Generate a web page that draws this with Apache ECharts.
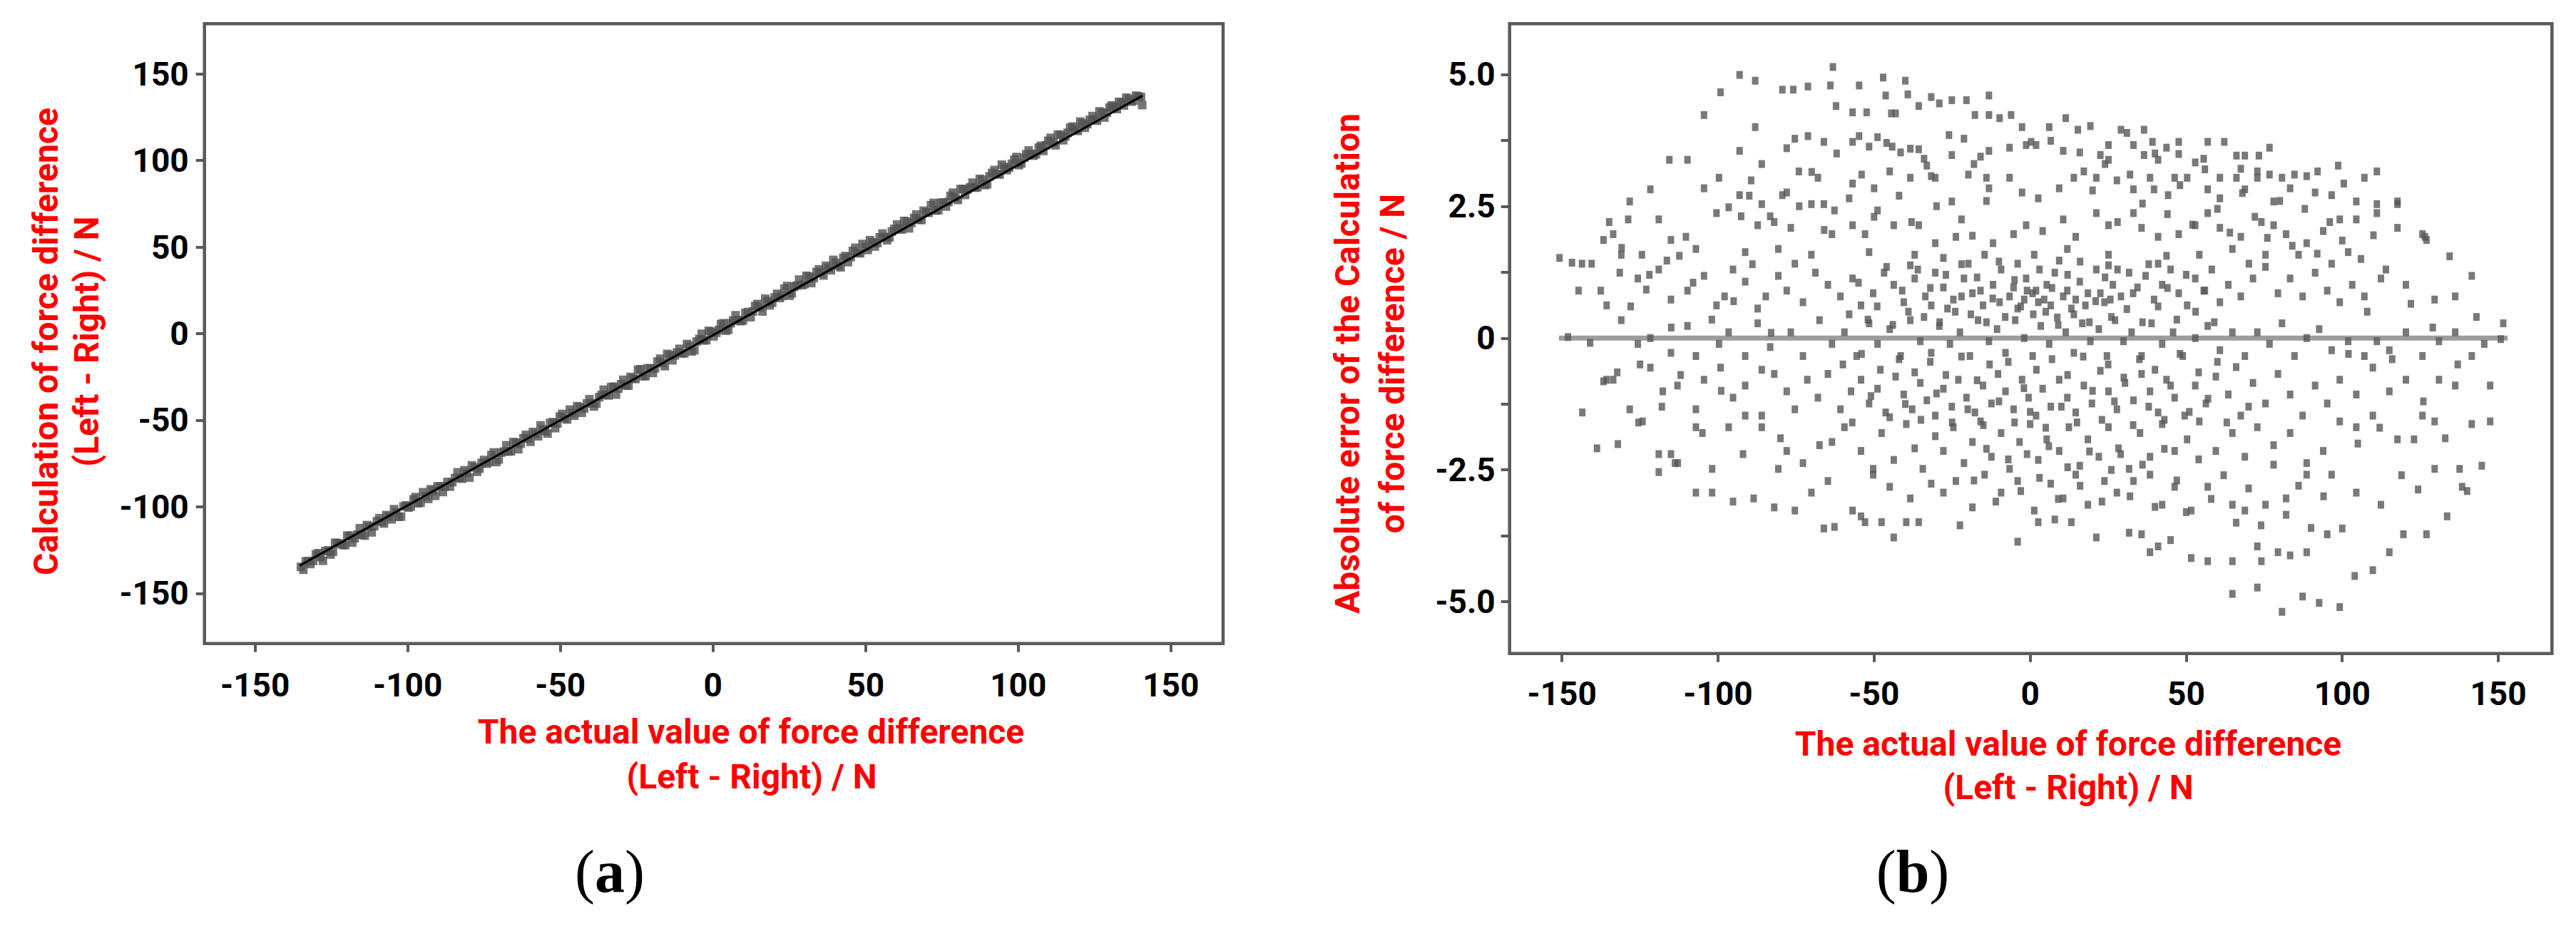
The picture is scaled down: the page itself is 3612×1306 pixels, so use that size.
<!DOCTYPE html>
<html>
<head>
<meta charset="utf-8">
<script src="https://cdn.jsdelivr.net/npm/echarts@6/dist/echarts.min.js"></script>
<style>
html,body{margin:0;padding:0;background:#fff;}
#main{width:3612px;height:1306px;}
</style>
</head>
<body>
<div id="main"></div>
<script>
// ---------------- DATA ----------------
// Panel (a): actual value vs calculated value of force difference (N)
const actualA = [-135,-133.4,-131.9,-130.1,-128.6,-127,-125.3,-123.8,-122.1,-120.5,-119,-117.4,-115.7,-114.1,-112.6,-111,-109.3,-107.8,-106.2,-104.5,-103,-101.4,-99.8,-98.1,-96.6,-95,-93.3,-91.8,-90.2,-88.5,-87,-85.4,-83.7,-82.2,-80.6,-79,-77.3,-75.8,-74.1,-72.6,-71,-69.4,-67.7,-66.2,-64.5,-63,-61.3,-59.8,-58.2,-56.5,-55,-53.4,-51.7,-50.2,-48.6,-46.9,-45.4,-43.7,-42.2,-40.5,-39,-37.3,-35.8,-34.2,-32.5,-31,-29.4,-27.7,-26.2,-24.6,-22.9,-21.4,-19.7,-18.2,-16.5,-15,-13.3,-11.8,-10.2,-8.5,-7,-5.4,-3.7,-2.2,-0.6,1.1,2.6,4.3,5.8,7.4,9.1,10.6,12.3,13.8,15.4,17.1,18.6,20.2,21.9,23.4,25.1,26.6,28.2,29.9,31.4,33,34.7,36.2,37.9,39.4,41,42.7,44.2,45.8,47.5,49,50.7,52.2,53.8,55.5,57,58.6,60.3,61.8,63.5,65,66.6,68.3,69.8,71.4,73.1,74.6,76.3,77.8,79.4,81.1,82.6,84.2,85.9,87.4,89.1,90.6,92.2,93.9,95.4,97,98.7,100.2,101.9,103.4,105,106.7,108.2,109.8,111.5,113,114.7,116.2,117.8,119.5,121,122.6,124.3,125.8,127.5,129,130.6,132.3,133.8,135.4,137.1,138.6,140.2,140.6,
-134.2,-132.6,-131,-129.3,-127.8,-126.1,-124.5,-123,-121.3,-119.8,-118.2,-116.5,-115,-113.4,-111.8,-110.1,-108.5,-107,-105.3,-103.8,-102.2,-100.6,-99,-97.4,-95.8,-94.1,-92.5,-91,-89.3,-87.8,-86.2,-84.5,-83,-81.4,-79.8,-78.1,-76.5,-75,-73.3,-71.8,-70.2,-68.5,-67,-65.4,-63.8,-62.1,-60.5,-59,-57.3,-55.8,-54.2,-52.5,-51,-49.4,-47.8,-46.1,-44.5,-43,-41.3,-39.8,-38.2,-36.5,-35,-33.4,-31.8,-30.1,-28.5,-27,-25.4,-23.8,-22.1,-20.5,-19,-17.3,-15.8,-14.2,-12.5,-11,-9.4,-7.8,-6.1,-4.5,-3,-1.4,0.2,1.9,3.4,5,6.6,8.3,9.8,11.4,13.1,14.6,16.2,17.9,19.4,21,22.6,24.3,25.8,27.4,29.1,30.6,32.2,33.9,35.4,37,38.6,40.3,41.8,43.4,45.1,46.6,48.2,49.9,51.4,53,54.6,56.3,57.8,59.4,61.1,62.6,64.2,65.9,67.4,69,70.6,72.3,73.8,75.4,77.1,78.6,80.2,81.9,83.4,85,86.6,88.3,89.8,91.4,93.1,94.6,96.2,97.9,99.4,101,102.6,104.3,105.8,107.4,109.1,110.6,112.2,113.9,115.4,117,118.6,120.3,121.8,123.4,125.1,126.6,128.2,129.9,131.4,133,134.6,136.3,137.8,139.4];
const calcA = [-134.7,-131.5,-133.1,-127.5,-129.1,-125.6,-127.6,-120.8,-121.3,-122.2,-116.8,-118.3,-112.4,-116.7,-111.6,-111.2,-106.6,-109.7,-105.7,-101.4,-105.8,-99.8,-100.5,-95.7,-98.0,-91.6,-95.5,-90.9,-88.2,-91.5,-85.7,-85.8,-80.1,-83.8,-80.4,-76.1,-79.8,-74.7,-75.1,-70.1,-74.2,-68.7,-64.5,-68.0,-63.0,-63.6,-58.5,-62.5,-57.8,-53.0,-56.3,-51.6,-54.6,-47.9,-48.9,-43.9,-47.4,-42.5,-43.3,-37.9,-42.1,-36.7,-32.4,-35.7,-30.6,-31.8,-26.7,-30.1,-25.9,-20.9,-24.6,-20.0,-22.7,-16.1,-17.0,-11.7,-15.4,-10.9,-11.4,-6.0,-10.3,-4.6,-0.1,-3.8,1.1,0.5,5.5,1.7,6.0,10.6,7.2,11.9,9.5,16.0,15.2,20.2,16.3,20.9,20.6,26.0,21.9,27.1,31.2,28.5,33.0,32.1,37.1,33.6,38.0,42.6,39.2,43.8,41.3,47.8,46.8,51.8,48.3,52.8,52.3,57.8,53.9,59.0,63.0,60.1,64.7,64.0,68.8,65.6,70.0,74.2,71.1,75.5,73.4,79.6,78.6,83.5,80.1,84.5,84.3,89.4,85.8,90.8,94.5,91.9,96.2,95.8,100.5,97.3,101.6,105.8,102.8,107.4,105.5,111.4,110.5,115.0,111.7,116.0,119.6,117.1,121.5,121.0,125.7,123.0,127.6,127.6,131.8,129.7,133.4,136.3,134.0,137.4,136.6,132.0,
-136.4,-131.5,-131.3,-126.8,-131.2,-125.2,-126.0,-121.0,-122.1,-116.6,-120.7,-116.1,-116.1,-110.6,-114.8,-108.4,-108.6,-104.8,-107.3,-103.2,-105.7,-99.2,-99.9,-94.4,-97.6,-93.9,-89.9,-93.7,-88.3,-88.3,-88.4,-83.4,-83.3,-78.9,-83.2,-77.2,-78.0,-73.0,-74.1,-68.6,-72.7,-68.1,-68.1,-62.6,-66.8,-60.4,-60.6,-56.8,-59.3,-55.2,-57.7,-51.1,-51.9,-46.4,-49.6,-45.9,-41.9,-45.7,-40.3,-40.3,-40.4,-35.4,-35.3,-30.9,-35.2,-29.2,-30.0,-25.0,-26.2,-20.6,-24.6,-20.1,-20.1,-14.5,-18.8,-12.5,-12.6,-8.8,-11.4,-7.2,-9.6,-3.1,-3.9,1.6,-1.6,2.1,6.0,2.3,7.6,7.8,7.6,12.5,12.8,17.1,12.8,18.8,17.9,23.0,21.8,27.5,23.3,27.8,28.0,33.4,29.2,35.6,35.3,39.2,36.6,40.9,38.3,44.8,44.2,49.6,46.4,50.1,54.0,50.3,55.6,55.8,55.6,60.5,60.8,65.1,60.8,66.8,65.9,71.0,69.8,75.5,71.3,75.8,76.0,81.4,77.2,83.6,83.3,87.2,84.6,88.9,86.3,92.8,92.2,97.6,94.4,98.1,102.0,98.3,103.6,103.8,103.6,108.5,108.8,113.1,108.8,114.8,113.9,119.0,117.8,122.5,118.9,123.5,123.7,128.4,124.8,130.6,131.0,133.9,131.8,135.6,134.6,137.1];
const fitLineX = [-135.4, 140.7];
const fitLineY = [-134.0, 137.5];

// Panel (b): actual value vs absolute error of the calculation (N)
const errX = [-104.5,-99.2,-93.1,-88.1,-93.1,-88.1,-79.4,-75.9,-71.2,-64.0,-63.2,-62.2,-54.8,-47.1,-46.3,-40.0,-39.2,-56.9,-52.4,-44.5,-43.1,-35.7,-31.7,-29.1,-25.1,-20.4,-13.2,-17.7,-13.2,-9.8,-6.1,-2.6,6.1,11.4,0.3,1.9,15.3,19.3,29.1,31.0,36.5,39.2,43.7,47.6,56.9,62.2,66.1,68.8,73.3,76.7,80.7,84.7,92.1,98.7,111.1,117.7,126.5,134.4,141.5,151.6,150.8,145.5,147.4,147.4,141.5,144.7,137.6,138.4,133.6,127.0,119.6,115.1,109.8,104.0,99.2,92.6,87.3,80.7,72.8,64.8,74.1,64.8,56.9,51.6,72.8,79.4,83.3,88.6,95.2,100.0,41.0,45.0,38.4,35.7,31.7,21.2,13.2,7.9,2.6,-4.0,-22.5,-35.7,-39.7,-43.7,-47.6,-52.9,-62.7,-66.1,-75.4,-82.0,-88.6,-95.2,-101.9,-107.1,-112.9,-119.0,-115.1,-124.2,-125.5,-132.1,-138.8,-143.5,-136.7,-135.7,-132.3,-141.0,-148.1,-150.8,-146.8,-143.6,-140.5,-144.7,-137.6,-135.7,-136.7,-134.9,-130.9,-131.5,-128.3,-121.7,-115.6,-109.8,
-75.4,-71.2,-66.1,-56.9,-54.8,-51.6,-48.9,-44.2,-41.5,-38.4,-35.7,-33.1,-25.1,-21.2,-15.9,-13.2,-6.6,-1.3,6.6,10.6,15.9,22.5,25.1,33.1,36.5,41.0,47.6,55.6,60.8,67.5,72.8,76.7,
-104.5,-99.7,-93.1,-89.4,-86.0,-79.4,-78.0,-74.1,-68.0,-66.1,-62.7,-56.9,-50.0,-45.0,-38.4,-31.7,-30.4,-25.1,-19.8,-14.0,-13.2,-6.6,-2.6,2.6,9.3,14.0,17.2,21.2,25.1,27.8,33.1,38.4,39.7,44.2,46.3,50.3,52.9,56.9,60.8,66.1,68.8,72.8,78.0,83.3,88.6,91.3,96.6,100.5,104.5,107.1,111.1,117.7,
-133.6,-128.8,-119.0,-115.1,-110.3,-107.1,-100.5,-96.6,-92.6,-87.3,-83.3,-76.7,-70.1,-63.5,-56.9,-52.9,-48.9,-43.7,-35.7,-30.4,-23.8,-18.5,-11.9,-5.3,-1.3,4.0,10.6,14.6,21.2,25.1,33.1,35.7,41.0,47.6,52.9,56.9,60.8,67.5,74.1,78.0,82.0,88.6,93.9,99.2,104.5,111.1,117.7,125.7,127.0,-131.0,-124.4,-112.4,-91.3,-80.7,-70.1,-51.6,-37.0,-27.8,-14.6,1.3,11.9,25.1,43.7,54.2,64.8,75.4,86.0,101.9,
-125.7,-123.0,-119.0,-115.1,-109.8,-104.5,-100.5,-97.9,-95.2,-91.3,-87.3,-84.7,-80.7,-78.0,-72.8,-68.8,-64.8,-60.8,-56.9,-54.2,-50.3,-46.8,-43.7,-40.5,-37.0,-33.6,-30.4,-27.8,-24.6,-21.2,-18.5,-15.1,-11.9,-9.3,-6.6,-4.0,-1.3,0.8,2.6,5.3,7.9,10.6,13.2,15.9,18.5,21.2,23.8,26.5,29.1,31.7,34.4,37.0,39.7,42.3,45.0,47.6,50.3,52.9,55.6,58.2,60.8,63.5,67.5,71.4,75.4,79.4,83.3,87.3,91.3,95.2,99.2,103.2,107.1,112.4,120.4,129.6,136.2,-116.4,-75.4,-38.4,-19.8,-4.0,9.3,25.1,41.0,70.1,96.6,-31.7,-26.5,-22.0,-15.9,-9.8,-5.3,-1.9,1.9,4.5,6.6,11.9,14.6,17.7,22.5,25.7,
-131.0,-125.7,-121.7,-115.1,-109.8,-107.1,-99.7,-96.6,-91.3,-87.3,-83.3,-76.7,-72.8,-67.5,-63.5,-59.5,-55.6,-51.6,-48.9,-45.0,-41.5,-38.4,-35.2,-31.7,-29.1,-25.7,-22.5,-19.3,-16.7,-13.2,-10.6,-7.9,-4.8,-1.9,0.8,3.4,6.1,8.7,11.4,14.0,16.7,19.3,22.0,24.6,27.2,29.9,32.5,35.7,38.9,42.3,45.8,48.9,52.9,56.9,60.8,64.8,68.8,72.8,76.7,80.7,84.7,88.6,92.6,96.6,101.9,107.1,111.1,115.1,120.4,125.7,131.0,136.2,141.5,
-133.6,-128.3,-121.7,-117.7,-113.0,-107.1,-104.5,-99.2,-95.2,-91.3,-86.0,-82.0,-78.0,-75.4,-71.4,-68.0,-64.8,-60.8,-57.4,-54.2,-51.6,-48.9,-46.3,-43.1,-40.5,-37.8,-35.2,-33.1,-30.4,-27.8,-25.1,-23.0,-20.4,-17.7,-15.1,-12.4,-10.3,-7.9,-5.3,-2.6,-0.5,1.9,4.0,6.6,9.3,11.9,14.6,17.2,19.8,22.5,25.1,27.8,30.4,33.1,35.7,38.4,41.0,43.7,46.3,49.5,52.9,56.3,59.5,63.5,67.5,71.4,75.4,79.4,83.3,87.3,91.3,95.2,99.2,104.5,109.8,115.1,120.4,125.7,131.0,136.2,
-119.0,-113.8,-107.1,-101.9,-96.6,-91.3,-86.0,-80.7,-78.0,-72.8,-67.5,-63.5,-59.5,-54.2,-50.3,-47.6,-43.7,-39.7,-37.0,-34.4,-30.4,-27.8,-24.6,-21.2,-18.5,-15.9,-12.4,-9.3,-6.6,-3.4,0.0,2.6,5.3,9.3,12.4,15.9,18.5,22.0,25.1,28.3,31.7,35.2,38.4,42.3,46.3,50.3,54.2,59.5,64.8,68.8,72.8,78.0,83.3,88.6,93.9,99.2,104.5,109.8,117.7,123.0,129.6,
-70.1,-64.8,-56.9,-54.2,-50.3,-45.0,-38.4,-31.7,-27.8,-23.8,-18.5,-14.6,-9.3,-4.0,1.3,6.6,10.6,14.6,18.5,23.8,27.8,33.1,38.4,42.3,46.3,51.6,56.9,64.8,68.8,75.4,82.0,88.6,96.6,104.5,112.4,124.3,129.6,
-58,-55,-52,-49,-46,-44,-41,-39,-36,-34,-32,-29,-27,-24,-22,-19,-17,-14,-12,-10,-8,-5,-3,-1,1,3,5,7,9,12,14,16,19,21,24,26,28,31,33,36,38,41,44,47,50,53,56,59,
-60,-57,-54,-51,-48,-45,-42,-40,-37,-35,-32,-30,-27,-25,-22,-20,-17,-15,-13,-10,-7,-5,-2,0,2,5,7,10,12,15,17,20,23,25,27,30,33,35,38,40,43,45,48,51,54,57,60,63,66,70,
-18,-14,-11,-7,-3,-1,3,6,9,12,16,19,23,26,29,32,36,40,43,47,50,54,58,62,66,70,74,78,82,86,90,94,
-90,-86,-82,-78,-74,-70,-66,-62,-58,-54,-50,-46,-42,-38,-34,-30,-26,-22,-18,-14,
20,24,28,32,36,40,44,48,52,56,60,64,68,72,76,80,84,88,92,96,100,106,110,114,
-128,-125,-122,-118,-115,-112,-108,-105,-102,-99,-95,-92,-89,-86,-83,-80,
102,105,108,112,116,119,122,126,129,133,137,140,143];
const errY = [4.23,4.66,4.99,4.88,3.55,4.00,4.71,4.71,4.77,4.79,5.14,4.40,4.79,4.94,4.60,4.88,4.62,4.28,4.28,4.26,4.26,4.40,4.57,4.45,4.51,4.51,4.60,4.23,4.23,4.17,4.23,4.00,4.00,4.17,3.72,3.66,3.95,4.02,3.95,3.89,3.95,3.72,3.61,3.72,3.72,3.72,3.46,3.46,3.46,3.61,3.04,3.10,3.16,3.27,3.16,2.59,1.92,1.55,1.18,0.28,-0.02,-0.11,-0.90,-1.58,-1.63,-2.42,-2.48,-2.82,-3.38,-3.72,-3.72,-4.06,-4.40,-4.51,-5.10,-5.02,-4.90,-5.19,-4.73,-4.85,-4.23,-4.23,-4.23,-4.17,-3.95,-4.06,-4.12,-4.06,-3.72,-3.61,-3.95,-3.83,-4.06,-3.72,-3.69,-3.78,-3.49,-3.44,-3.49,-3.86,-3.55,-3.49,-3.49,-3.78,-3.49,-3.49,-3.58,-3.61,-3.27,-3.21,-3.04,-3.10,-2.93,-2.93,-2.37,-2.54,-2.20,-1.58,-1.60,-2.01,-2.09,-1.41,-0.82,-0.79,-0.65,-0.09,0.02,1.52,1.43,1.41,1.41,0.90,0.90,0.62,1.86,2.20,1.71,1.24,2.59,2.82,3.38,3.38,
3.78,3.83,3.72,3.72,3.83,3.63,3.81,3.63,3.52,3.59,3.58,3.27,3.47,3.78,3.44,3.55,3.61,3.66,3.74,3.55,3.52,3.47,3.66,3.66,3.47,3.38,3.49,3.40,3.04,3.21,3.16,3.10,
2.84,3.04,2.71,2.99,2.54,2.71,2.76,3.16,3.04,2.54,2.42,2.93,2.84,3.16,3.04,3.07,3.04,2.59,3.10,3.04,2.84,3.04,2.76,2.65,2.84,3.04,3.16,3.04,3.38,2.99,2.82,3.04,2.82,2.71,3.04,3.04,3.33,2.82,2.65,3.04,2.82,3.04,2.59,2.84,3.07,2.76,2.71,2.93,2.59,3.04,2.54,2.54,
1.97,2.25,2.25,1.86,1.92,1.69,2.37,2.48,2.31,2.14,2.31,2.09,2.54,1.97,2.14,1.97,2.42,2.14,2.14,1.80,1.92,1.94,1.80,1.97,2.14,2.03,2.25,1.92,2.37,2.14,2.37,2.09,1.92,1.97,2.14,2.37,2.09,1.92,2.20,2.14,1.97,1.80,2.03,2.25,2.25,2.37,2.09,1.97,1.86,1.58,1.58,1.56,1.63,1.69,1.58,1.63,1.58,1.52,1.58,1.58,1.69,1.58,1.56,1.58,1.69,1.58,1.58,1.63,
1.13,0.92,1.30,0.73,0.90,1.18,0.62,0.79,1.30,1.07,0.56,0.79,1.18,0.90,0.68,1.24,1.01,0.79,1.13,0.62,0.85,1.24,1.01,0.68,1.13,0.79,1.24,0.96,0.73,1.13,0.85,0.62,1.01,1.30,0.79,0.56,1.13,0.85,0.68,1.01,1.24,0.79,0.56,1.07,0.85,1.30,0.68,1.01,0.79,1.24,0.96,1.18,0.73,1.01,1.30,0.85,0.62,1.13,0.90,1.30,0.68,1.01,0.79,1.13,1.35,0.85,1.13,0.79,1.24,0.90,0.68,1.01,0.79,1.13,1.01,0.73,0.79,1.47,1.41,1.38,1.41,1.41,1.47,1.38,1.41,1.41,1.41,0.62,0.56,0.79,0.90,0.68,0.96,0.73,0.90,0.73,0.62,0.90,0.73,0.62,0.85,0.73,
0.34,-0.11,0.00,-0.28,0.23,-0.34,-0.11,0.11,-0.34,0.28,-0.17,0.11,-0.34,0.34,-0.11,0.11,-0.34,0.28,-0.11,0.17,-0.34,0.34,-0.06,-0.28,0.23,-0.11,0.11,-0.34,0.34,-0.06,0.17,-0.28,0.34,0.00,-0.34,0.23,-0.11,0.39,0.11,-0.28,0.28,-0.06,0.17,-0.34,0.34,-0.06,0.11,-0.34,0.28,-0.11,0.11,-0.34,0.00,0.23,-0.23,0.11,-0.34,0.11,-0.11,0.28,-0.34,0.00,0.17,-0.23,-0.06,-0.34,-0.06,-0.23,0.11,-0.34,-0.06,0.11,-0.34,
-0.79,-1.35,-0.56,-1.01,-0.90,-1.35,-0.79,-0.56,-1.13,-0.90,-1.47,-0.68,-1.01,-1.35,-0.79,-1.13,-0.68,-1.35,-1.01,-0.79,-1.24,-0.96,-1.41,-0.73,-1.07,-1.35,-0.85,-1.18,-1.47,-0.96,-1.30,-0.79,-1.13,-1.41,-0.90,-1.24,-0.68,-1.01,-1.35,-0.79,-1.13,-1.47,-0.96,-1.30,-0.79,-1.13,-1.41,-0.90,-1.24,-0.62,-1.01,-1.35,-0.85,-1.18,-0.68,-1.01,-1.41,-0.79,-1.13,-1.47,-0.90,-1.24,-0.73,-1.07,-1.47,-0.85,-1.24,-0.68,-1.07,-1.47,-0.90,-1.24,-0.79,-1.07,-0.56,-1.01,-0.79,-1.47,-0.79,-0.90,
-2.20,-2.37,-1.69,-2.48,-1.69,-1.47,-1.69,-2.48,-2.14,-2.37,-2.03,-1.97,-1.69,-2.14,-2.48,-1.80,-2.31,-1.63,-2.09,-2.48,-1.86,-2.14,-1.69,-2.37,-1.97,-1.58,-2.25,-1.80,-2.48,-1.97,-1.63,-2.31,-1.92,-2.14,-1.69,-2.42,-1.92,-2.25,-1.69,-2.09,-2.48,-1.80,-2.25,-1.63,-2.14,-1.92,-1.58,-2.14,-1.80,-2.25,-1.69,-2.03,-1.80,-2.37,-2.14,-1.58,-1.69,-1.47,-1.92,-1.92,-1.58,
-2.93,-2.71,-3.27,-3.38,-2.59,-2.82,-3.04,-2.76,-2.93,-2.71,-3.21,-2.59,-2.93,-2.71,-3.27,-2.76,-3.04,-2.59,-3.16,-2.71,-2.93,-2.71,-2.59,-3.16,-2.82,-3.27,-2.82,-3.16,-3.27,-3.16,-3.04,-2.59,-2.59,-2.93,-3.16,-2.87,-2.48,
0.45,1.05,0.35,0.6,1.35,0.25,0.9,0.5,1.3,0.4,0.95,0.3,1.2,0.5,1.4,0.45,1.15,0.3,0.75,1.45,0.4,1.1,0.6,0.9,0.45,1.3,0.5,0.95,0.25,1.2,0.45,1.45,0.3,0.7,1.15,0.4,1.3,0.55,0.85,0.3,1.4,0.6,0.95,0.35,1.2,0.5,0.9,0.3,
-0.5,-1.6,-0.3,-1.1,-0.6,-1.5,-0.4,-1.25,-0.65,-1.55,-0.45,-1.05,-0.7,-1.6,-0.35,-1.35,-0.8,-1.65,-0.5,-1.2,-0.45,-1.6,-0.95,-1.4,-0.6,-1.7,-0.4,-1.3,-0.7,-1.6,-0.35,-1.0,-1.55,-0.5,-1.2,-0.75,-1.65,-0.4,-1.3,-0.6,-1.55,-0.9,-0.3,-1.4,-0.65,-1.15,-0.45,-1.6,-0.55,-1.3,
-2.7,-2.1,-3.1,-2.3,-2.9,-2.2,-2.65,-2.05,-3.05,-2.45,-2.8,-2.15,-3.1,-2.5,-2.2,-3.0,-2.4,-3.2,-2.1,-2.7,-3.3,-2.3,-3.05,-2.6,-3.5,-2.85,-3.55,-2.4,-3.35,-2.8,-3.6,-3.0,
2.7,3.3,2.2,3.6,2.5,3.15,2.05,3.5,2.65,3.1,2.3,3.7,2.7,2.2,3.4,2.5,3.85,2.25,3.3,2.6,
2.8,3.3,2.2,3.1,2.55,3.5,2.35,2.9,2.15,3.2,2.45,2.0,2.75,2.3,1.9,2.6,1.75,2.45,1.6,2.2,1.85,1.5,1.95,1.3,
0.6,-0.5,1.2,-1.3,0.2,-0.7,1.05,-1.8,0.35,-1.0,0.7,-2.2,1.4,-0.6,0.1,-1.9,
-0.3,-2.0,0.5,-1.7,-0.4,-2.6,0.65,-1.2,0.2,-1.9,-0.5,-2.9,0.4];
const zeroLineX = [-151, 153];
const zeroLineY = [0, 0];

// Tick values
const ticksA = [-150, -100, -50, 0, 50, 100, 150];
const ticksBx = [-150, -100, -50, 0, 50, 100, 150];
const labelsBy = [-5, -2.5, 0, 2.5, 5];
const ticksBy = [-5, -3.75, -2.5, -1.25, 0, 1.25, 2.5, 3.75, 5];

// ---------------- CHART ----------------
const FONT = 'Roboto, "Liberation Sans", sans-serif';
const AXC = '#5a5a5a';
const RED = '#ff0000';

function zip(a, b) { return a.map((v, i) => [v, b[i]]); }

const chart = echarts.init(document.getElementById('main'), null, {renderer: 'svg', width: 3612, height: 1306});

function xAxisCfg(grid, min, max, ticks, margin) {
  return {
    gridIndex: grid, type: 'value', min: min, max: max,
    axisLine: {show: false, onZero: false},
    splitLine: {show: false},
    axisTick: {show: true, inside: false, length: 12, customValues: ticks, lineStyle: {color: AXC, width: 4}},
    axisLabel: {customValues: ticks, margin: margin, color: '#000', fontFamily: FONT, fontWeight: 'bold', fontSize: 46}
  };
}
function yAxisCfg(grid, min, max, ticks, labels, margin, fmt) {
  return {
    gridIndex: grid, type: 'value', min: min, max: max,
    axisLine: {show: false, onZero: false},
    splitLine: {show: false},
    axisTick: {show: true, inside: false, length: 12, customValues: ticks, lineStyle: {color: AXC, width: 4}},
    axisLabel: {customValues: labels, margin: margin, color: '#000', fontFamily: FONT, fontWeight: 'bold', fontSize: 46, formatter: fmt}
  };
}

function titleText(x, y, text, rot) {
  return {
    type: 'text', x: x, y: y, rotation: rot || 0,
    style: {text: text, fill: RED, fontFamily: FONT, fontWeight: 'bold', fontSize: 48, align: 'center', verticalAlign: 'middle'}
  };
}
function panelLabel(x, y, letter) {
  return {
    type: 'text', x: x, y: y,
    style: {
      text: '{p|(}{b|' + letter + '}{p|)}',
      align: 'center', verticalAlign: 'middle',
      rich: {
        p: {fontFamily: '"Liberation Serif", serif', fontSize: 84, fontWeight: 'normal', fill: '#000'},
        b: {fontFamily: '"Liberation Serif", serif', fontSize: 84, fontWeight: 'bold', fill: '#000'}
      }
    }
  };
}

const option = {
  animation: false,
  backgroundColor: '#ffffff',
  grid: [
    {left: 286.7, top: 33.3, width: 1428.3, height: 869.4, show: true, borderColor: AXC, borderWidth: 4.5, backgroundColor: 'transparent'},
    {left: 2116.7, top: 33.3, width: 1461.6, height: 883.4, show: true, borderColor: AXC, borderWidth: 4.5, backgroundColor: 'transparent'}
  ],
  xAxis: [
    xAxisCfg(0, -166.6, 167.1, ticksA, 35),
    xAxisCfg(1, -166.8, 167.2, ticksBx, 33)
  ],
  yAxis: [
    yAxisCfg(0, -179, 179, ticksA, ticksA, 22, v => String(v)),
    yAxisCfg(1, -5.98, 5.96, ticksBy, labelsBy, 20, v => (v === 0 ? '0' : v.toFixed(1)))
  ],
  series: [
    {
      type: 'scatter', xAxisIndex: 0, yAxisIndex: 0, z: 2,
      symbol: 'rect', symbolSize: 12,
      itemStyle: {color: '#525252'},
      data: zip(actualA, calcA)
    },
    {
      type: 'line', xAxisIndex: 0, yAxisIndex: 0, z: 3,
      symbol: 'none', lineStyle: {color: '#000', width: 3},
      data: zip(fitLineX, fitLineY)
    },
    {
      type: 'line', xAxisIndex: 1, yAxisIndex: 1, z: 2,
      symbol: 'none', lineStyle: {color: '#9c9c9c', width: 7},
      data: zip(zeroLineX, zeroLineY)
    },
    {
      type: 'scatter', xAxisIndex: 1, yAxisIndex: 1, z: 3,
      symbol: 'rect', symbolSize: [9, 11],
      itemStyle: {color: '#585858'},
      data: zip(errX, errY)
    }
  ],
  graphic: [
    titleText(1053, 1026, 'The actual value of force difference'),
    titleText(1054, 1089, '(Left - Right) / N'),
    titleText(64, 479, 'Calculation of force difference', Math.PI / 2),
    titleText(121, 479, '(Left - Right) / N', Math.PI / 2),
    titleText(2900, 1043, 'The actual value of force difference'),
    titleText(2900, 1104, '(Left - Right) / N'),
    titleText(1889, 510, 'Absolute error of the Calculation', Math.PI / 2),
    titleText(1952, 510, 'of force difference / N', Math.PI / 2),
    panelLabel(855, 1222, 'a'),
    panelLabel(2682, 1222, 'b')
  ]
};
chart.setOption(option);
</script>
</body>
</html>
